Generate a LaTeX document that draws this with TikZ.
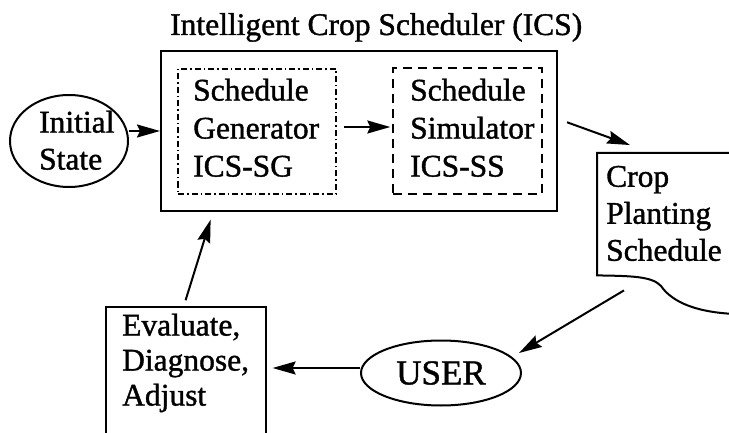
\documentclass[tikz,border=0pt]{standalone}
\usepackage{fontspec}
\setmainfont{Liberation Serif}[FakeBold=1.2]
\usetikzlibrary{arrows.meta,shapes.geometric}

\begin{document}
\begin{tikzpicture}[x=1pt,y=1pt,
  txt/.style={font=\fontsize{31.5}{38}\selectfont, inner sep=0pt, align=left, anchor=north west},
  box/.style={draw, line width=2pt, inner sep=0pt},
  dashdotbox/.style={draw, line width=1.4pt, inner sep=0pt, dash pattern=on 6pt off 3pt on 1.5pt off 3pt},
  dashbox/.style={draw, line width=1.4pt, inner sep=0pt, dash pattern=on 9pt off 6pt},
  oval/.style={ellipse, draw, line width=2pt, inner sep=0pt},
  arr/.style={line width=2pt, -{Stealth[length=23pt,width=13pt,inset=3pt]}}]

\path[use as bounding box, clip] (0,0) rectangle (729,432);

% scheduler with its two components
\node[txt, anchor=base west] (title) at (170,397) {Intelligent Crop Scheduler (ICS)};
\node[box, minimum width=396pt, minimum height=160pt] (main) at (359,301) {};
\node[dashdotbox, minimum width=158pt, minimum height=125pt] (sg) at (257,300.5) {};
\node[dashbox, minimum width=149pt, minimum height=126pt] (ss) at (467.5,301) {};
\node[txt] (sgtext) at (193,353.5) {Schedule\\Generator\\ICS-SG};
\node[txt] (sstext) at (410,353.5) {Schedule\\Simulator\\ICS-SS};

% initial state
\node[oval, minimum width=118pt, minimum height=92pt] (init) at (69,291) {};
\node[txt, font=\fontsize{31.5}{37}\selectfont] (inittext) at (39,321.5) {Initial\\State};

% output document with wavy lower edge
\node[minimum width=150pt, minimum height=122pt, anchor=north west, inner sep=0pt] (doc) at (597,279) {};
\draw[line width=2pt] ([xshift=10pt]doc.north east) -- (doc.north west) -- (doc.south west)
  .. controls (630,156) and (652,156) .. (661,146)
  .. controls (670,133) and (690,120) .. (735,118);
\node[txt, font=\fontsize{31.5}{37}\selectfont] (doctext) at (606,266.3) {Crop\\Planting\\Schedule};

% user and feedback box
\node[oval, minimum width=160pt, minimum height=65pt, font=\fontsize{35}{40}\selectfont] (user) at (441,59) {USER};
\node[box, line width=1.6pt, minimum width=160pt, minimum height=150pt, anchor=north west] (eval) at (105,126) {};
\node[txt, font=\fontsize{31.5}{35}\selectfont] (evaltext) at (122,118.5) {Evaluate,\\Diagnose,\\Adjust};

% connectors
\draw[arr] (init.east |- main.west) -- (main.west);
\draw[arr, shorten <=7pt, shorten >=2pt] ([yshift=4.5pt]sg.east) -- ([yshift=4.5pt]sg.east -| ss.west);
\draw[arr, shorten <=9.6pt, shorten >=23.4pt] ([yshift=12pt]main.east) -- ([xshift=55pt]doc.north west);
\draw[arr] ([xshift=27pt,yshift=-15pt]doc.south west) -- ([xshift=78pt,yshift=20pt]user.center);
\draw[arr, shorten >=6pt] ([yshift=5pt]user.west) -- ([yshift=5pt]user.west -| eval.east);
\draw[arr, shorten <=6pt, shorten >=8pt] ([xshift=-2pt]eval.north) -- ([xshift=-146pt]main.south);
\end{tikzpicture}
\end{document}
